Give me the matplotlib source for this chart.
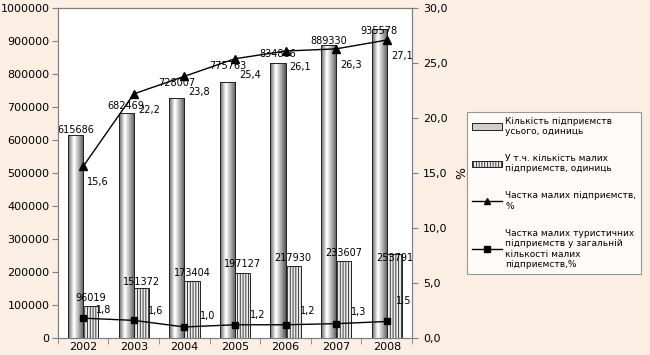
import numpy as np
import matplotlib.pyplot as plt
from matplotlib.patches import Patch
from matplotlib.lines import Line2D

years = ['2002', '2003', '2004', '2005', '2006', '2007', '2008']
total = [615686, 682469, 728007, 775763, 834866, 889330, 935578]
small = [96019, 151372, 173404, 197127, 217930, 233607, 253791]
share_small = [15.6, 22.2, 23.8, 25.4, 26.1, 26.3, 27.1]
share_tour = [1.8, 1.6, 1.0, 1.2, 1.2, 1.3, 1.5]

legend_labels = ['Кількість підприємств\nусього, одиниць',
                 'У т.ч. кількість малих\nпідприємств, одиниць',
                 'Частка малих підприємств,\n%',
                 'Частка малих туристичних\nпідприємств у загальній\nкількості малих\nпідприємств,%']

# label nudges in pixels (the labels were moved by hand in the original)
total_dy = [5, 7, 15, 16, 9, 4, -2]
small_dy = [8, 6, 8, 9, 8, 8, -4]
tour_dx = [13, 14, 16, 15, 14, 15, 9]
tour_dy = [8, 9, 11, 10, 14, 12, 20]

bg = '#fbeee2'
plt.rcParams['font.family'] = 'DejaVu Sans'
plt.rcParams['hatch.color'] = '#707070'
plt.rcParams['hatch.linewidth'] = 0.6

fig = plt.figure(figsize=(6.5, 3.55), dpi=100, facecolor=bg)
ax = fig.add_axes([0.089, 0.048, 0.545, 0.929])
ax.set_facecolor('white')

x = np.arange(len(years))
w = 0.3

# cylinder-like gradient for the big bars
g = np.concatenate([np.linspace(0.4, 1.0, 12), np.linspace(1.0, 0.35, 20)])
grad = np.tile(g, (2, 1))

big = ax.bar(x - w / 2, total, w, facecolor='none', edgecolor='#222222', linewidth=0.7, zorder=3)
for b in big:
    im = ax.imshow(grad, cmap='gray', vmin=0, vmax=1, aspect='auto',
                   extent=[b.get_x(), b.get_x() + b.get_width(), 0, b.get_height()], zorder=2)
    im.set_clip_path(b)

sm = ax.bar(x + w / 2, small, w, facecolor='#ececec', edgecolor='#222222', linewidth=0.7,
            hatch='||||||', zorder=3)

for i in range(len(years)):
    ax.annotate(str(total[i]), (x[i] - w / 2, total[i]), xytext=(0, total_dy[i]),
                textcoords='offset pixels', ha='center', va='center', fontsize=7, zorder=5)
    ax.annotate(str(small[i]), (x[i] + w / 2, small[i]), xytext=(0, small_dy[i]),
                textcoords='offset pixels', ha='center', va='center', fontsize=7, zorder=5)

ax.set_xlim(-0.5, len(years) - 0.5)
ax.set_ylim(0, 1000000)
ax.set_yticks(np.arange(0, 1000001, 100000))
ax.set_yticklabels([str(v) for v in range(0, 1000001, 100000)], fontsize=8)
ax.set_xticks(x)
ax.set_xticklabels(years, fontsize=8)
ax.set_xticks(np.arange(-0.5, len(years), 1), minor=True)
ax.tick_params(axis='x', which='major', length=0, pad=3)
ax.tick_params(axis='x', which='minor', length=4, color='#808080')
ax.tick_params(axis='y', length=4, color='#808080', pad=2)

ax2 = ax.twinx()
ax2.plot(x, share_small, color='black', lw=1, marker='^', ms=6, zorder=4)
ax2.plot(x, share_tour, color='black', lw=1, marker='s', ms=4.5, zorder=4)
for i in range(len(years)):
    ax2.annotate(f'{share_small[i]:.1f}'.replace('.', ','), (x[i], share_small[i]),
                 xytext=(4, -16), textcoords='offset pixels', ha='left', va='center', fontsize=7)
    ax2.annotate(f'{share_tour[i]:.1f}'.replace('.', ','), (x[i], share_tour[i]),
                 xytext=(tour_dx[i], tour_dy[i]), textcoords='offset pixels',
                 ha='left', va='center', fontsize=7)
ax2.set_ylim(0, 30)
ax2.set_yticks(np.arange(0, 31, 5))
ax2.set_yticklabels([f'{v:.1f}'.replace('.', ',') for v in range(0, 31, 5)], fontsize=8)
ax2.tick_params(axis='y', length=4, color='#808080', pad=4)
ax2.set_ylabel('%', fontsize=9, labelpad=5)

for a in (ax, ax2):
    for s in a.spines.values():
        s.set_color('#808080')
        s.set_linewidth(0.8)

handles = [Patch(facecolor='#cfcfcf', edgecolor='#222222', linewidth=0.7),
           Patch(facecolor='#ececec', edgecolor='#222222', hatch='||||||', linewidth=0.7),
           Line2D([], [], color='black', lw=1, marker='^', ms=5),
           Line2D([], [], color='black', lw=1, marker='s', ms=4)]
leg = fig.legend(handles, legend_labels, loc='upper left', bbox_to_anchor=(0.7185, 0.6845),
                 fontsize=6.5, frameon=True, fancybox=False, edgecolor='#808080',
                 labelspacing=2.0, handlelength=3.4, handletextpad=0.35, borderpad=0.5,
                 borderaxespad=0)
leg.get_frame().set_linewidth(0.8)

fig.savefig('out.png', dpi=100, facecolor=bg)
